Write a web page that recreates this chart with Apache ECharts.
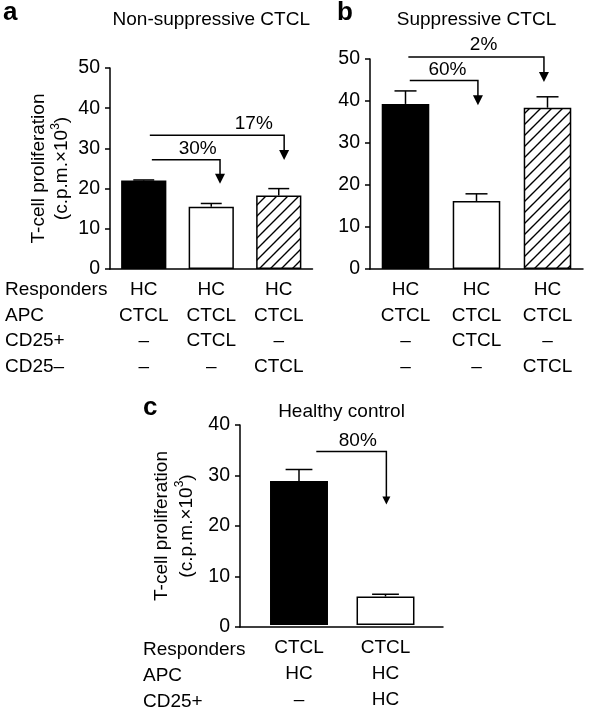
<!DOCTYPE html>
<html><head><meta charset="utf-8">
<script src="https://cdn.jsdelivr.net/npm/echarts@6/dist/echarts.min.js"></script>
<style>html,body{margin:0;padding:0;background:#fff}#c{width:589px;height:713px}</style>
</head><body><div id="c"></div>
<script>
// ---------- data ----------
const rowNamesAB = ['Responders', 'APC', 'CD25+', 'CD25–'];
const rowNamesC = ['Responders', 'APC', 'CD25+'];

// Panel a : Non-suppressive CTCL
const aResponders = ['HC', 'HC', 'HC'];
const aAPC = ['CTCL', 'CTCL', 'CTCL'];
const aCD25pos = ['–', 'CTCL', '–'];
const aCD25neg = ['–', '–', 'CTCL'];
const aValues = [22.0, 15.5, 18.3];
const aErrors = [0.15, 0.8, 1.7];
const aArrowText = ['30%', '17%'];
// [fromCat, toCat, level, tip, labelCat, labelY]
const aArrows = [[0.12, 1.13, 27.2, 21.2, 0.80, 29.9], [0.09, 2.08, 33.3, 27.1, 1.63, 36.2]];

// Panel b : Suppressive CTCL
const bResponders = ['HC', 'HC', 'HC'];
const bAPC = ['CTCL', 'CTCL', 'CTCL'];
const bCD25pos = ['–', 'CTCL', '–'];
const bCD25neg = ['–', '–', 'CTCL'];
const bValues = [39.3, 16.2, 38.4];
const bErrors = [3.1, 1.7, 2.6];
const bArrowText = ['60%', '2%'];
const bArrows = [[0.06, 1.02, 44.9, 39.0, 0.59, 47.5], [0.04, 1.95, 50.5, 44.5, 1.10, 53.3]];

// Panel c : Healthy control
const cResponders = ['CTCL', 'CTCL'];
const cAPC = ['HC', 'HC'];
const cCD25pos = ['–', 'HC'];
const cValues = [28.8, 5.7];
const cErrors = [2.3, 0.45];
const cArrowText = ['80%'];
const cArrows = [[0.20, 1.01, 34.7, 24.1, 0.68, 36.8]];

const yAxisAB = {min: 0, max: 50, interval: 10};
const yAxisC = {min: 0, max: 40, interval: 10};

// ---------- helpers ----------
const FF = '"Liberation Sans", Arial, Helvetica, sans-serif';
function hatch() {
  const s = 11, cv = document.createElement('canvas');
  cv.width = s; cv.height = s;
  const g = cv.getContext('2d');
  g.fillStyle = '#fff'; g.fillRect(0, 0, s, s);
  g.strokeStyle = '#000'; g.lineWidth = 1.4; g.beginPath();
  g.moveTo(-2, s + 2); g.lineTo(s + 2, -2);
  g.moveTo(-2, 2); g.lineTo(2, -2);
  g.moveTo(s - 2, s + 2); g.lineTo(s + 2, s - 2);
  g.stroke();
  return cv;
}
const hatchImg = hatch();
const fills = ['#000', '#fff', {image: hatchImg, repeat: 'repeat'}];

function cats(...rows) {
  return rows[0].map((_, i) => rows.map(r => r[i]).join('\n'));
}
function barData(vals) {
  return vals.map((v, i) => ({value: v, itemStyle: {color: fills[i], borderColor: '#000', borderWidth: 1.5}}));
}
function errData(vals, errs) { return vals.map((v, i) => [i, v, errs[i]]); }
function errRender(params, api) {
  const i = api.value(0), v = api.value(1), e = api.value(2);
  const p0 = api.coord([i, v]), p1 = api.coord([i, v + e]);
  const half = api.size([1, 0])[0] * 0.155;
  return {type: 'group', children: [
    {type: 'line', shape: {x1: p0[0], y1: p0[1], x2: p1[0], y2: p1[1]}, style: {stroke: '#000', lineWidth: 1.5}},
    {type: 'line', shape: {x1: p1[0] - half, y1: p1[1], x2: p1[0] + half, y2: p1[1]}, style: {stroke: '#000', lineWidth: 1.5}}
  ]};
}
function arrowRender(texts, hw, hh) {
  return function (params, api) {
    const lvl = api.value(1), from = api.value(2), to = api.value(3), tip = api.value(4), tx = api.value(5), ty = api.value(6);
    const base = api.coord([0, lvl]);
    const band = api.size([1, 0])[0];
    const y = base[1], yt = api.coord([0, tip])[1], yl = api.coord([0, ty])[1];
    const x0 = base[0] + from * band, x1 = base[0] + to * band, xl = base[0] + tx * band;
    return {type: 'group', children: [
      {type: 'polyline', shape: {points: [[x0, y], [x1, y], [x1, yt - hh + 1]]}, style: {stroke: '#000', lineWidth: 1.5, fill: null}},
      {type: 'polygon', shape: {points: [[x1 - hw / 2, yt - hh], [x1 + hw / 2, yt - hh], [x1, yt]]}, style: {fill: '#000'}},
      {type: 'text', x: xl, y: yl, style: {text: texts[params.dataIndex], fill: '#000', font: '19px ' + FF, align: 'center', verticalAlign: 'middle'}}
    ]};
  };
}
function arrowData(arr) { return arr.map(a => [0, a[2], a[0], a[1], a[3], a[4], a[5]]); }

const axisLineStyle = {show: true, lineStyle: {color: '#000', width: 1.5}};
const yName = '{n|T-cell proliferation}\n{n|(c.p.m.×10}{s|3}{n|)}';
function yAxisFull(gi, range, gap, lh) {
  return {
    type: 'value', gridIndex: gi, min: range.min, max: range.max, interval: range.interval,
    axisLine: axisLineStyle, axisTick: {show: true, length: 5, lineStyle: {color: '#000', width: 1.5}},
    axisLabel: {color: '#000', fontSize: 19.5, fontFamily: FF, margin: 10},
    splitLine: {show: false},
    name: gap ? yName : '', nameLocation: 'middle', nameRotate: 90, nameGap: gap || 0,
    nameTextStyle: {color: '#000', rich: {
      n: {fontSize: 19, fontFamily: FF, color: '#000', lineHeight: lh},
      s: {fontSize: 12, fontFamily: FF, color: '#000', verticalAlign: 'top', lineHeight: lh - 6}
    }}
  };
}
function xAxisCat(gi, data, margin, showLine) {
  return {
    type: 'category', gridIndex: gi, data: data,
    axisLine: showLine ? axisLineStyle : {show: false}, axisTick: {show: false},
    axisLabel: {interval: 0, color: '#000', fontSize: 19, fontFamily: FF, lineHeight: 25.7, margin: margin}
  };
}

// ---------- layout ----------
const G = {
  a: {left: 110, top: 68, width: 202.5, height: 201},
  b: {left: 370, top: 59, width: 213, height: 210},
  cf: {left: 240, top: 425, width: 203, height: 202},
  cb: {left: 255.75, top: 425, width: 173, height: 202}
};

const graphics = [];
function txt(x, y, t, opts) {
  graphics.push({type: 'text', x: x, y: y, style: Object.assign({text: t, fill: '#000', font: '19px ' + FF, align: 'left', verticalAlign: 'middle'}, opts || {})});
}
txt(3, 13, 'a', {font: 'bold 26px ' + FF});
txt(337, 13, 'b', {font: 'bold 26px ' + FF});
txt(143, 408, 'c', {font: 'bold 26px ' + FF});
txt(G.a.left + G.a.width / 2, 20, 'Non-suppressive CTCL', {align: 'center'});
txt(G.b.left + G.b.width / 2, 20, 'Suppressive CTCL', {align: 'center'});
txt(G.cf.left + G.cf.width / 2, 412, 'Healthy control', {align: 'center'});
rowNamesAB.forEach((r, i) => txt(5, G.a.top + G.a.height + 8 + 12.85 + i * 25.7, r));
rowNamesC.forEach((r, i) => txt(143, G.cf.top + G.cf.height + 10 + 13 + i * 26, r));

const option = {
  animation: false,
  backgroundColor: '#fff',
  textStyle: {fontFamily: FF},
  grid: [G.a, G.b, G.cf, G.cb].map(g => Object.assign({containLabel: false}, g)),
  xAxis: [
    xAxisCat(0, cats(aResponders, aAPC, aCD25pos, aCD25neg), 8, true),
    xAxisCat(1, cats(bResponders, bAPC, bCD25pos, bCD25neg), 8, true),
    {type: 'value', gridIndex: 2, min: 0, max: 1, axisLine: axisLineStyle, axisTick: {show: false}, axisLabel: {show: false}, splitLine: {show: false}},
    Object.assign(xAxisCat(3, cats(cResponders, cAPC, cCD25pos), 10, false), {axisLabel: {interval: 0, color: '#000', fontSize: 19, fontFamily: FF, lineHeight: 26, margin: 10}})
  ],
  yAxis: [
    yAxisFull(0, yAxisAB, 37, 23),
    yAxisFull(1, yAxisAB, 0, 23),
    yAxisFull(2, yAxisC, 41, 25),
    {type: 'value', gridIndex: 3, min: yAxisC.min, max: yAxisC.max, show: false, splitLine: {show: false}}
  ],
  series: [
    {type: 'bar', xAxisIndex: 0, yAxisIndex: 0, data: barData(aValues), barCategoryGap: '33%'},
    {type: 'custom', xAxisIndex: 0, yAxisIndex: 0, data: errData(aValues, aErrors), renderItem: errRender, z: 5},
    {type: 'custom', xAxisIndex: 0, yAxisIndex: 0, data: arrowData(aArrows), renderItem: arrowRender(aArrowText, 10, 10), encode: {x: 0, y: 1}, z: 5},
    {type: 'bar', xAxisIndex: 1, yAxisIndex: 1, data: barData(bValues), barCategoryGap: '33%'},
    {type: 'custom', xAxisIndex: 1, yAxisIndex: 1, data: errData(bValues, bErrors), renderItem: errRender, z: 5},
    {type: 'custom', xAxisIndex: 1, yAxisIndex: 1, data: arrowData(bArrows), renderItem: arrowRender(bArrowText, 10, 10), encode: {x: 0, y: 1}, z: 5},
    {type: 'bar', xAxisIndex: 3, yAxisIndex: 3, data: barData(cValues), barCategoryGap: '33%'},
    {type: 'custom', xAxisIndex: 3, yAxisIndex: 3, data: errData(cValues, cErrors), renderItem: errRender, z: 5},
    {type: 'custom', xAxisIndex: 3, yAxisIndex: 3, data: arrowData(cArrows), renderItem: arrowRender(cArrowText, 8, 8), encode: {x: 0, y: 1}, z: 5}
  ],
  graphic: graphics
};
const chart = echarts.init(document.getElementById('c'), null, {renderer: 'canvas'});
chart.setOption(option);
</script>
</body></html>
